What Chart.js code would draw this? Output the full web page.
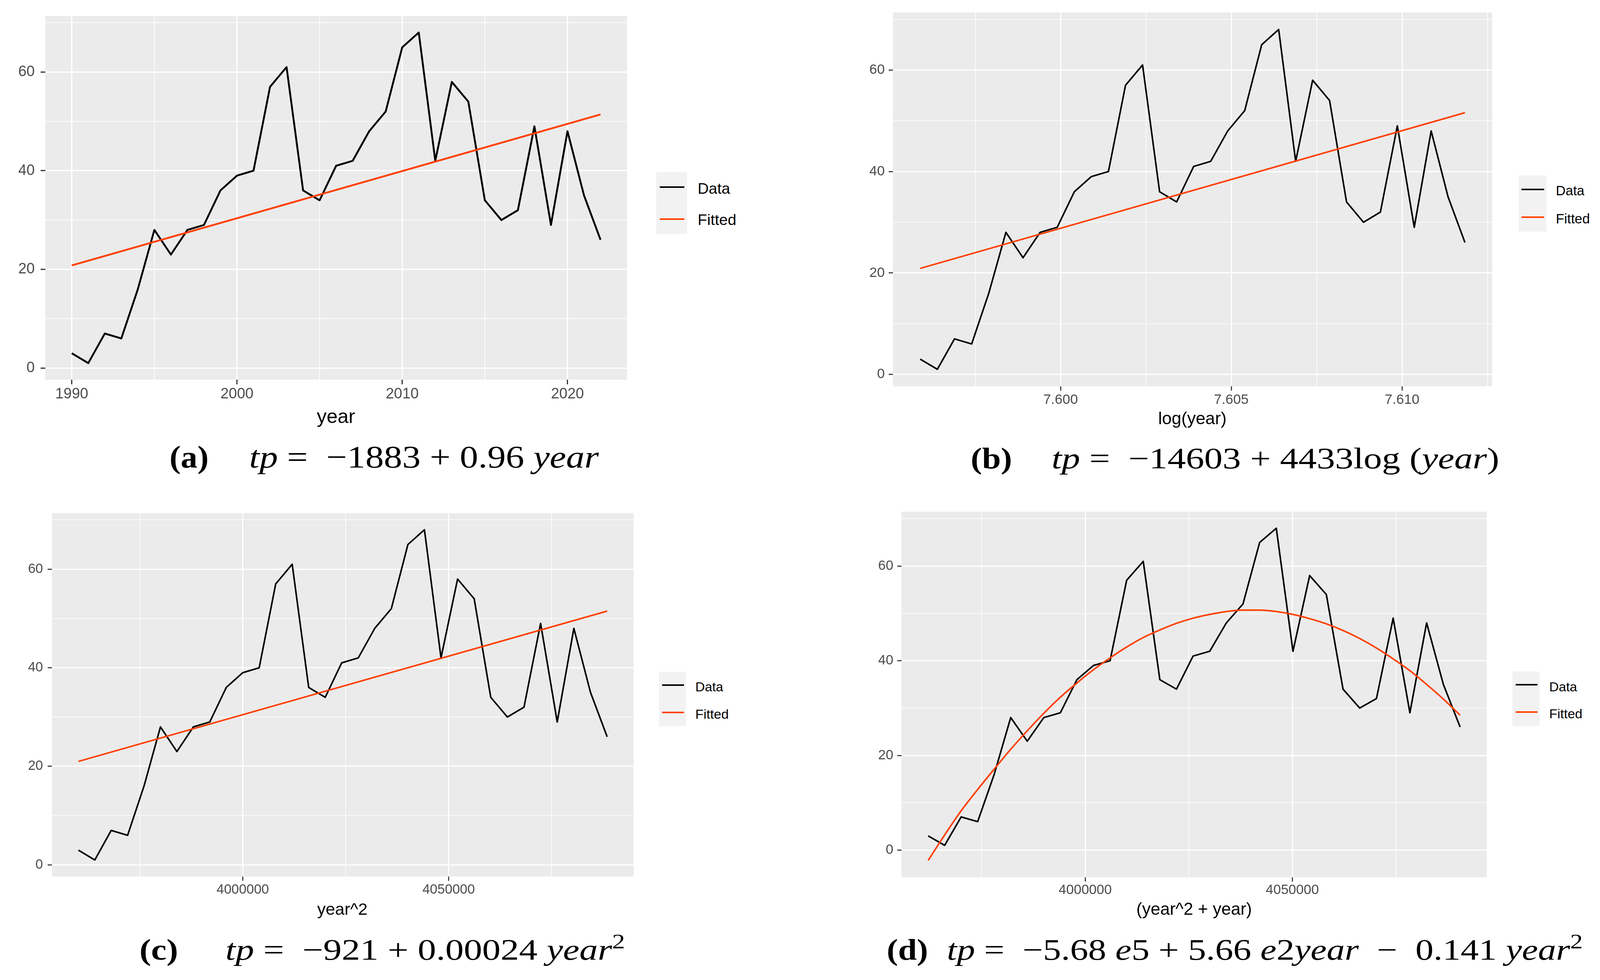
<!DOCTYPE html>
<html><head><meta charset="utf-8">
<script src="https://cdn.jsdelivr.net/npm/chart.js@4.4.1/dist/chart.umd.min.js"></script>
<style>
html,body{margin:0;padding:0;background:#fff;}
#page{position:relative;width:4111px;height:2509px;overflow:hidden;background:#fff;}
#page canvas{position:absolute;}
.t{position:absolute;white-space:nowrap;transform-origin:0 0;}
.sans{font-family:"Liberation Sans",Arial,sans-serif;color:#000;}
.cap{font-family:"Liberation Serif","DejaVu Serif",serif;color:#000;}
.key{position:absolute;background:#F2F2F2;}
.kl{position:absolute;}
.sup{position:relative;top:-0.55em;font-size:0.7em;}
</style></head><body><div id="page"></div>
<script>
// ---------------- data ----------------
const years = [1990,1991,1992,1993,1994,1995,1996,1997,1998,1999,2000,2001,2002,2003,2004,2005,2006,2007,2008,2009,2010,2011,2012,2013,2014,2015,2016,2017,2018,2019,2020,2021,2022];
const tpValues = [3,1,7,6,16,28,23,28,29,36,39,40,57,61,36,34,41,42,48,52,65,68,42,58,54,34,30,32,49,29,48,35,26];
const fitEndYears = [1990, 2022];
const fittedA = [20.8, 51.4];
const fittedB = [20.9, 51.6];
const fittedC = [21.0, 51.5];
const fittedD = [-2.2,3.2,8.3,12.8,17.1,21.3,25.2,28.9,32.3,35.3,38.1,40.6,42.9,44.9,46.5,47.9,49.0,49.8,50.4,50.7,50.7,50.4,49.8,48.9,47.8,46.4,44.7,42.7,40.4,37.9,35.0,31.9,28.5];

const yMajorTicks = [0,20,40,60];
const yMajorLabels = ['0','20','40','60'];
const yMinorTicks = [10,30,50,70];

const xMajorA = [1990,2000,2010,2020];
const xLabelsA = ['1990','2000','2010','2020'];
const xMinorA = [1995,2005,2015];

const xMajorB = [7.600,7.605,7.610];
const xLabelsB = ['7.600','7.605','7.610'];
const xMinorB = [7.5975,7.6025,7.6075,7.6125];

const xMajorC = [4000000,4050000];
const xLabelsC = ['4000000','4050000'];
const xMinorC = [3975000,4025000,4075000];

const xMajorD = [4000000,4050000];
const xLabelsD = ['4000000','4050000'];
const xMinorD = [3975000,4025000,4075000];

const seriesNames = ['Data','Fitted'];
const axisTitles = ['year','log(year)','year^2','(year^2 + year)'];

// ---------------- helpers ----------------
const RED = '#FF4000';
const page = document.getElementById('page');

function tickList(major, labels, minor){
  const arr = major.map((v,i)=>({value:v,label:labels[i],major:true}))
    .concat(minor.map(v=>({value:v,label:'',major:false})));
  arr.sort((a,b)=>a.value-b.value);
  return arr;
}

const bgPlugin = {
  id:'panelBg',
  beforeDraw(chart){
    const a = chart.chartArea, ctx = chart.ctx;
    ctx.save(); ctx.fillStyle = '#EBEBEB';
    ctx.fillRect(a.left, a.top, a.right-a.left, a.bottom-a.top);
    ctx.restore();
  }
};

function makePanel(p){
  const cv = document.createElement('canvas');
  cv.width = p.cw; cv.height = p.ch;
  cv.style.left = p.cl+'px'; cv.style.top = p.ct+'px';
  cv.style.width = p.cw+'px'; cv.style.height = p.ch+'px';
  page.appendChild(cv);
  const xt = tickList(p.xMajor, p.xLabels, p.xMinor);
  const yt = tickList(yMajorTicks, yMajorLabels, yMinorTicks);
  const font = {family:'"Liberation Sans", Arial, sans-serif', size:p.fs};
  function axis(ticks, isX){
    return {
      type:'linear',
      min: isX ? p.xmin : p.ymin,
      max: isX ? p.xmax : p.ymax,
      afterBuildTicks: s => { s.ticks = ticks.map(t=>({value:t.value})); },
      afterFit: s => { if(isX) s.height = p.hx; else s.width = p.wy; },
      border:{display:false},
      grid:{
        color:'#FFFFFF',
        lineWidth: c => (c.tick && ticks[c.index] && ticks[c.index].major) ? p.gMaj : p.gMin,
        drawTicks:true,
        tickLength:p.tl,
        tickWidth:p.tw,
        tickColor: c => (c.tick && ticks[c.index] && ticks[c.index].major) ? '#333333' : 'rgba(0,0,0,0)'
      },
      ticks:{
        autoSkip:false, maxRotation:0, minRotation:0,
        padding: isX ? p.xpad : p.ypad,
        color:'#4D4D4D', font:font,
        callback:(v,i)=> ticks[i] ? ticks[i].label : ''
      }
    };
  }
  new Chart(cv, {
    type:'line',
    data:{datasets:[
      {label:seriesNames[1], data:p.fitX.map((x,i)=>({x:x,y:p.fitY[i]})), borderColor:RED, borderWidth:p.lwR,
       pointRadius:0, fill:false, tension:0, cubicInterpolationMode: p.smooth ? 'monotone' : 'default',
       borderJoinStyle:'round', borderCapStyle:'butt'},
      {label:seriesNames[0], data:p.dataX.map((x,i)=>({x:x,y:tpValues[i]})), borderColor:'#000000', borderWidth:p.lw,
       pointRadius:0, fill:false, tension:0, borderJoinStyle:'round', borderCapStyle:'butt'}
    ]},
    options:{
      responsive:false, animation:false, devicePixelRatio:1,
      layout:{padding:{top:p.padTop,right:p.padRight,left:0,bottom:0}},
      plugins:{legend:{display:false}, tooltip:{enabled:false}},
      scales:{x:axis(xt,true), y:axis(yt,false)}
    },
    plugins:[bgPlugin]
  });
}

function addText(html, cls, left, baseline, F, ratio, target){
  const d = document.createElement('div');
  d.className = 't '+cls; d.innerHTML = html;
  d.style.fontSize = F+'px'; d.style.lineHeight = F+'px';
  d.style.left = left+'px'; d.style.top = (baseline - ratio*F)+'px';
  page.appendChild(d);
  if(target){
    const w = d.getBoundingClientRect().width;
    if(w>0) d.style.transform = 'scaleX('+(target/w)+')';
  }
  return d;
}
function sansText(t,left,baseline,F,target){ return addText(t,'sans',left,baseline,F,0.8465,target); }
function capText(h,left,baseline,F,target){ return addText(h,'cap',left,baseline,F,0.8375,target); }

function addLegend(g){
  const box = document.createElement('div');
  box.className='key';
  box.style.left=g.bx+'px'; box.style.top=g.by+'px'; box.style.width=g.bw+'px'; box.style.height=g.bh+'px';
  page.appendChild(box);
  [[g.yData,'#000000'],[g.yFit,RED]].forEach(([y,c])=>{
    const l = document.createElement('div'); l.className='kl';
    l.style.left=g.lx1+'px'; l.style.width=(g.lx2-g.lx1)+'px';
    l.style.top=(y-g.lw/2)+'px'; l.style.height=g.lw+'px'; l.style.background=c;
    page.appendChild(l);
  });
  sansText(seriesNames[0], g.tx, g.bData, g.fs, g.wData);
  sansText(seriesNames[1], g.tx, g.bFit, g.fs, g.wFit);
}

// ---------------- panels ----------------
makePanel({cl:0, ct:0, cw:1640, ch:1052, wy:116, padTop:41, padRight:35, hx:80,
  xmin:1988.4, xmax:2023.6, ymin:-2.35, ymax:71.35,
  xMajor:xMajorA, xLabels:xLabelsA, xMinor:xMinorA,
  dataX:years.slice(), fitX:fitEndYears.slice(), fitY:fittedA,
  fs:38, tl:12, tw:3, xpad:3, ypad:15, gMaj:3.2, gMin:1.8, lw:4.8, lwR:4.6, smooth:false});

makePanel({cl:2166, ct:0, cw:1684, ch:1069, wy:120, padTop:32, padRight:30, hx:80,
  xmin:7.595092, xmax:7.612640, ymin:-2.35, ymax:71.35,
  xMajor:xMajorB, xLabels:xLabelsB, xMinor:xMinorB,
  dataX:years.map(y=>Math.log(y)), fitX:fitEndYears.map(y=>Math.log(y)), fitY:fittedB,
  fs:35.5, tl:11, tw:2.7, xpad:3, ypad:10, gMaj:3.0, gMin:1.6, lw:4.0, lwR:4.0, smooth:false});

makePanel({cl:13, ct:1274, cw:1639, ch:1050, wy:120, padTop:40, padRight:30, hx:80,
  xmin:3953681, xmax:4094903, ymin:-2.35, ymax:71.35,
  xMajor:xMajorC, xLabels:xLabelsC, xMinor:xMinorC,
  dataX:years.map(y=>y*y), fitX:fitEndYears.map(y=>y*y), fitY:fittedC,
  fs:34.5, tl:11, tw:2.7, xpad:3, ypad:12, gMaj:3.0, gMin:1.6, lw:4.0, lwR:4.0, smooth:false});

makePanel({cl:2188, ct:1270, cw:1648, ch:1056, wy:120, padTop:40, padRight:30, hx:80,
  xmin:3955669, xmax:4096927, ymin:-5.75, ymax:71.5,
  xMajor:xMajorD, xLabels:xLabelsD, xMinor:xMinorD,
  dataX:years.map(y=>y*y+y), fitX:years.map(y=>y*y+y), fitY:fittedD,
  fs:35, tl:11, tw:2.7, xpad:1, ypad:10, gMaj:3.0, gMin:1.6, lw:4.0, lwR:4.0, smooth:true});

// ---------------- axis titles ----------------
sansText(axisTitles[0], 811, 1083, 50, 98);
sansText(axisTitles[1], 2965, 1086, 45, 175);
sansText(axisTitles[2], 812, 2342, 43, 129);
sansText(axisTitles[3], 2909, 2342, 44, 296);

// ---------------- legends ----------------
addLegend({bx:1680, by:441, bw:79, bh:158, lx1:1689, lx2:1752, yData:479, yFit:561, lw:4.6,
  tx:1786, bData:496, bFit:576, fs:39.3, wData:83, wFit:99});
addLegend({bx:3888, by:449, bw:71, bh:144, lx1:3895, lx2:3953, yData:485, yFit:556, lw:4.0,
  tx:3983, bData:500, bFit:572, fs:34.7, wData:73, wFit:87});
addLegend({bx:1687, by:1720, bw:69, bh:139, lx1:1695, lx2:1751, yData:1754, yFit:1824, lw:4.0,
  tx:1780, bData:1770, bFit:1840, fs:34, wData:71.4, wFit:85.5});
addLegend({bx:3872, by:1719, bw:69, bh:140, lx1:3880, lx2:3936, yData:1753, yFit:1823, lw:4.0,
  tx:3966, bData:1769.5, bFit:1838.6, fs:34, wData:71.4, wFit:85});

// ---------------- captions ----------------
capText('<b>(a)</b>', 434, 1197, 80, 100);
capText('<i>tp</i> = &nbsp;\u22121883 + 0.96 <i>year</i>', 638, 1197, 80, 895);
capText('<b>(b)</b>', 2485, 1199, 76, 106);
capText('<i>tp</i> = &nbsp;\u221214603 + 4433log (<i>year</i>)', 2692, 1199, 76, 1146);
capText('<b>(c)</b>', 357, 2457, 76, 99);
capText('<i>tp</i> = &nbsp;\u2212921 + 0.00024 <i>year</i><span class="sup">2</span>', 577, 2457, 76, 1023);
capText('<b>(d)</b>', 2270, 2457, 76, 106);
capText('<i>tp</i> = &nbsp;\u22125.68 <i>e</i>5 + 5.66 <i>e</i>2<i>year</i> &nbsp;\u2212 &nbsp;0.141 <i>year</i><span class="sup">2</span>', 2424, 2457, 76, 1628);
</script>
</body></html>
